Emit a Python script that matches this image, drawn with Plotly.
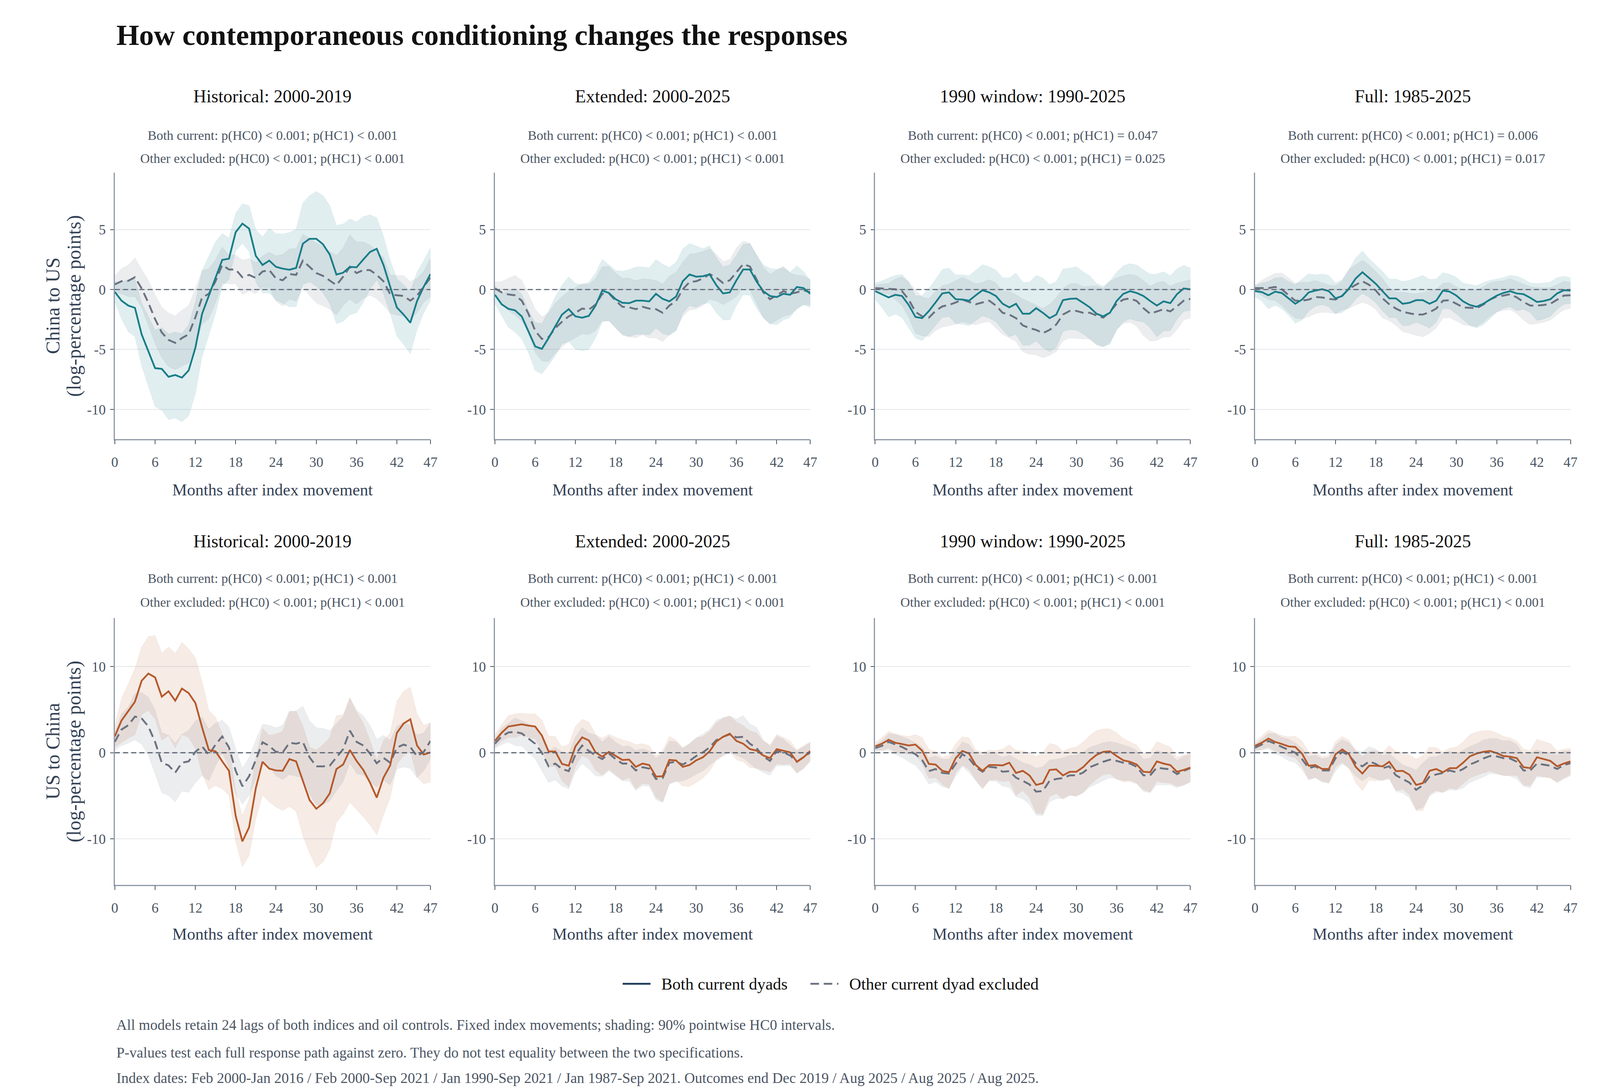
import plotly.graph_objects as go

months = list(range(48))
x_ticks = [0, 6, 12, 18, 24, 30, 36, 42, 47]

col_titles = ["Historical: 2000-2019", "Extended: 2000-2025", "1990 window: 1990-2025", "Full: 1985-2025"]
row_titles = [("China to US", "(log-percentage points)"), ("US to China", "(log-percentage points)")]
legend_names = ["Both current dyads", "Other current dyad excluded"]

pvals_cu = [
    ("p(HC0) < 0.001; p(HC1) < 0.001", "p(HC0) < 0.001; p(HC1) < 0.001"),
    ("p(HC0) < 0.001; p(HC1) < 0.001", "p(HC0) < 0.001; p(HC1) < 0.001"),
    ("p(HC0) < 0.001; p(HC1) = 0.047", "p(HC0) < 0.001; p(HC1) = 0.025"),
    ("p(HC0) < 0.001; p(HC1) = 0.006", "p(HC0) < 0.001; p(HC1) = 0.017"),
]
pvals_uc = [
    ("p(HC0) < 0.001; p(HC1) < 0.001", "p(HC0) < 0.001; p(HC1) < 0.001"),
    ("p(HC0) < 0.001; p(HC1) < 0.001", "p(HC0) < 0.001; p(HC1) < 0.001"),
    ("p(HC0) < 0.001; p(HC1) < 0.001", "p(HC0) < 0.001; p(HC1) < 0.001"),
    ("p(HC0) < 0.001; p(HC1) < 0.001", "p(HC0) < 0.001; p(HC1) < 0.001"),
]

# ---- China to US ----
cu_hist_both = [-0.2, -0.93, -1.34, -1.53, -3.74, -5.17, -6.56, -6.62, -7.28, -7.13, -7.35, -6.75, -4.87, -2.02, -0.51, 0.99, 2.47, 2.57, 4.78, 5.5, 5.08, 2.8, 2.05, 2.41, 1.89, 1.74, 1.65, 1.8, 3.82, 4.23, 4.23, 3.77, 2.92, 1.25, 1.4, 1.89, 1.85, 2.5, 3.13, 3.4, 2.05, 0.24, -1.5, -2.09, -2.77, -0.96, 0.24, 1.29]
cu_hist_both_hw = [0.83, 1.53, 2.18, 2.4, 2.63, 2.93, 3.2, 3.44, 3.58, 3.58, 3.68, 3.8, 3.83, 3.6, 3.3, 3.0, 2.2, 1.73, 1.58, 1.65, 1.9, 2.18, 2.35, 2.7, 2.77, 2.9, 3.1, 3.23, 3.4, 3.6, 3.95, 4.06, 4.09, 4.1, 4.06, 4.0, 3.8, 3.58, 3.1, 2.6, 2.4, 2.2, 2.4, 2.48, 2.59, 2.4, 2.18, 2.2]
cu_hist_excl = [0.42, 0.69, 0.72, 1.02, 0.09, -1.11, -2.47, -3.59, -4.2, -4.45, -4.05, -3.74, -2.32, -0.66, -0.36, 0.69, 2.05, 1.67, 1.67, 1.02, 1.22, 0.96, 1.5, 1.62, 0.92, 0.77, 1.29, 1.22, 2.41, 1.89, 1.37, 1.14, 0.77, 0.36, 1.07, 1.89, 1.37, 1.62, 1.62, 1.22, 0.69, -0.39, -0.48, -0.54, -0.93, -0.51, 0.24, 0.99]
cu_hist_excl_hw = [0.72, 1.05, 1.32, 1.62, 1.58, 1.88, 2.03, 2.1, 2.25, 2.24, 2.33, 2.4, 2.4, 2.25, 2.1, 1.8, 1.5, 1.2, 1.2, 1.43, 1.37, 1.3, 1.3, 1.5, 1.9, 2.15, 2.1, 2.2, 2.2, 2.4, 2.5, 2.5, 2.4, 2.5, 2.4, 2.7, 2.6, 2.35, 2.1, 2.0, 2.0, 1.6, 1.65, 1.7, 1.6, 1.45, 1.3, 1.6]

cu_ext_both = [-0.44, -1.23, -1.61, -1.74, -2.24, -3.52, -4.75, -4.95, -4.05, -3.07, -2.09, -1.64, -2.24, -2.35, -2.2, -1.34, -0.09, -0.29, -0.81, -1.11, -1.14, -0.93, -0.93, -0.99, -0.36, -0.78, -0.99, -0.59, 0.69, 1.25, 1.07, 1.11, 1.26, 0.36, -0.33, -0.24, 0.77, 1.67, 1.67, 0.66, -0.14, -0.54, -0.63, -0.36, -0.44, 0.21, 0.12, -0.36]
cu_ext_both_hw = [0.75, 0.93, 1.53, 1.82, 1.88, 1.73, 2.0, 2.1, 2.26, 2.48, 2.45, 2.7, 2.75, 2.75, 2.8, 2.7, 2.6, 2.33, 2.4, 2.63, 2.8, 2.81, 2.81, 2.8, 2.86, 2.89, 2.83, 2.86, 2.7, 2.59, 2.56, 2.3, 2.38, 2.3, 2.21, 2.3, 2.1, 2.1, 2.15, 2.23, 2.21, 2.3, 2.32, 2.18, 1.88, 1.77, 1.38, 1.13]
cu_ext_excl = [0.09, -0.24, -0.41, -0.48, -0.93, -2.02, -3.44, -4.12, -3.97, -3.22, -2.69, -2.24, -1.94, -1.59, -1.68, -1.26, -0.36, -0.33, -0.93, -1.44, -1.49, -1.64, -1.44, -1.59, -1.64, -1.94, -1.34, -0.96, 0.02, 0.62, 0.69, 0.92, 1.29, 0.99, 0.54, 0.77, 1.44, 2.12, 1.92, 0.84, -0.24, -0.81, -0.48, -0.14, -0.36, -0.24, -0.06, -0.24]
cu_ext_excl_hw = [0.53, 0.9, 1.35, 1.65, 1.7, 1.65, 1.8, 1.85, 2.03, 2.1, 2.1, 2.1, 2.1, 2.1, 2.1, 2.18, 2.26, 2.26, 2.29, 2.38, 2.45, 2.38, 2.33, 2.45, 2.41, 2.41, 2.45, 2.41, 2.26, 2.33, 2.33, 2.26, 2.1, 1.95, 1.8, 1.73, 2.03, 1.92, 1.95, 2.03, 2.1, 2.1, 2.1, 2.1, 1.73, 1.43, 1.2, 1.05]

cu_1990_both = [-0.14, -0.39, -0.66, -0.44, -0.54, -1.29, -2.29, -2.39, -1.8, -1.08, -0.33, -0.24, -0.81, -0.84, -0.93, -0.48, -0.06, -0.24, -0.54, -1.19, -1.49, -1.19, -2.02, -2.02, -1.56, -1.94, -2.39, -2.09, -0.89, -0.78, -0.75, -1.11, -1.49, -2.02, -2.24, -1.94, -0.96, -0.36, -0.14, -0.29, -0.54, -0.96, -1.34, -0.99, -1.14, -0.39, 0.09, 0.02]
cu_1990_both_hw = [0.68, 1.11, 1.62, 1.61, 1.8, 1.91, 1.77, 1.88, 1.88, 1.92, 2.0, 2.02, 2.03, 2.06, 2.08, 2.11, 2.14, 2.14, 2.17, 2.18, 2.45, 2.56, 2.63, 2.63, 2.74, 2.9, 2.81, 2.75, 2.6, 2.56, 2.65, 2.59, 2.63, 2.53, 2.51, 2.63, 2.41, 2.33, 2.3, 2.33, 2.17, 2.23, 2.63, 2.47, 2.29, 2.11, 1.92, 1.77]
cu_1990_excl = [0.12, 0.09, 0.06, 0.02, -0.14, -0.84, -1.86, -2.24, -2.35, -1.79, -1.41, -1.29, -1.08, -0.84, -1.04, -1.23, -1.08, -0.93, -1.34, -1.94, -2.09, -2.39, -2.99, -3.22, -3.37, -3.64, -3.37, -2.92, -2.09, -1.79, -1.79, -1.94, -1.94, -2.17, -2.35, -1.86, -1.19, -0.84, -0.74, -0.96, -1.56, -2.02, -1.83, -1.64, -1.83, -1.41, -0.93, -0.78]
cu_1990_excl_hw = [0.24, 0.38, 0.45, 0.86, 1.2, 1.5, 1.8, 1.61, 1.59, 1.65, 1.73, 1.74, 1.83, 1.85, 1.8, 1.71, 1.68, 1.76, 1.88, 1.8, 1.95, 1.95, 2.21, 2.18, 2.08, 2.06, 2.14, 2.26, 2.18, 2.26, 2.3, 2.18, 2.21, 2.48, 2.45, 2.56, 2.15, 2.0, 2.0, 2.11, 2.29, 2.29, 2.41, 2.33, 2.11, 1.95, 1.61, 1.61]

cu_full_both = [-0.14, -0.21, -0.48, -0.18, -0.29, -0.74, -1.19, -0.84, -0.24, -0.09, 0.02, -0.14, -0.74, -0.54, 0.09, 0.92, 1.44, 0.96, 0.47, -0.14, -0.74, -0.74, -1.19, -1.11, -0.89, -0.89, -1.19, -0.93, -0.09, -0.18, -0.51, -0.99, -1.29, -1.44, -1.19, -0.84, -0.51, -0.29, -0.14, -0.33, -0.39, -0.69, -1.04, -0.96, -0.81, -0.33, -0.06, -0.09]
cu_full_both_hw = [0.45, 0.75, 1.14, 1.14, 1.31, 1.4, 1.61, 1.71, 1.56, 1.31, 1.28, 1.31, 1.28, 1.38, 1.58, 1.73, 1.77, 1.61, 1.58, 1.65, 1.61, 1.61, 1.85, 1.88, 1.85, 2.06, 2.03, 1.8, 1.5, 1.44, 1.53, 1.53, 1.71, 1.76, 1.76, 1.61, 1.38, 1.28, 1.31, 1.44, 1.26, 1.23, 1.55, 1.5, 1.43, 1.32, 1.17, 1.08]
cu_full_excl = [0.12, 0.12, 0.12, 0.21, 0.02, -0.48, -0.93, -0.93, -0.84, -0.63, -0.66, -0.78, -0.84, -0.51, 0.06, 0.39, 0.69, 0.39, -0.09, -0.74, -1.23, -1.59, -1.86, -1.98, -2.09, -2.09, -1.89, -1.59, -0.93, -0.89, -1.19, -1.49, -1.53, -1.56, -1.26, -0.84, -0.59, -0.51, -0.39, -0.66, -1.04, -1.34, -1.34, -1.29, -1.19, -0.84, -0.51, -0.48]
cu_full_excl_hw = [0.26, 0.63, 0.96, 1.14, 1.35, 1.46, 1.46, 1.53, 1.44, 1.38, 1.23, 1.16, 1.17, 1.2, 1.62, 1.68, 1.77, 1.65, 1.59, 1.65, 1.38, 1.4, 1.65, 1.68, 1.73, 1.85, 1.77, 1.62, 1.46, 1.46, 1.43, 1.46, 1.5, 1.53, 1.47, 1.4, 1.28, 1.23, 1.29, 1.35, 1.5, 1.58, 1.5, 1.44, 1.35, 1.25, 1.2, 1.08]

# ---- US to China ----
uc_hist_both = [1.89, 3.74, 4.83, 5.92, 8.36, 9.2, 8.76, 6.51, 7.14, 6.05, 7.46, 6.93, 5.78, 2.94, 0.32, 0.17, -1.0, -2.1, -7.35, -10.3, -8.66, -4.1, -1.05, -1.85, -2.06, -2.1, -0.74, -1.0, -3.26, -5.5, -6.51, -5.88, -4.73, -1.89, -1.37, 0.32, -0.95, -2.0, -3.47, -5.21, -2.9, -1.47, 2.31, 3.4, 3.89, 0.84, -0.21, 0.04]
uc_hist_both_hw = [1.26, 2.56, 3.15, 3.84, 3.93, 4.29, 4.85, 5.08, 5.15, 5.5, 5.36, 5.15, 5.25, 5.36, 4.62, 3.97, 3.2, 2.84, 2.94, 2.94, 3.28, 3.57, 3.89, 3.87, 4.24, 4.62, 5.5, 5.8, 6.4, 6.16, 6.83, 6.83, 6.5, 6.2, 5.78, 6.1, 5.67, 5.46, 4.94, 4.35, 4.35, 3.78, 3.68, 3.74, 3.72, 3.68, 3.4, 3.43]
uc_hist_excl = [1.26, 2.69, 3.19, 4.2, 3.99, 3.05, 1.26, -1.16, -1.47, -2.31, -1.16, -1.0, 0.1, 0.74, -0.25, 0.95, 1.89, 0.63, -2.1, -3.89, -2.73, -0.84, 1.22, 0.8, 0.1, 0.04, 1.16, 1.05, 1.26, -0.53, -1.58, -1.58, -1.51, -0.53, 0.42, 2.56, 1.26, 0.84, -0.1, -1.22, -0.59, -1.16, 0.59, 0.95, 0.67, -0.42, 0.1, 1.37]
uc_hist_excl_hw = [1.0, 1.85, 2.1, 2.7, 3.0, 3.4, 3.7, 3.5, 3.5, 3.4, 3.3, 3.6, 3.6, 3.4, 3.0, 2.5, 1.9, 2.35, 2.6, 2.1, 2.2, 2.3, 2.1, 2.4, 2.8, 3.15, 3.7, 3.8, 4.15, 4.25, 4.5, 4.4, 4.1, 3.9, 3.8, 3.75, 3.7, 3.45, 3.3, 2.8, 2.6, 2.6, 2.5, 2.6, 2.5, 2.5, 2.2, 2.1]

uc_ext_both = [1.37, 2.31, 3.05, 3.15, 3.3, 3.15, 3.05, 2.0, 0.15, 0.15, -1.3, -1.51, 0.74, 1.79, 1.43, 0.04, -0.46, 0.1, -0.38, -0.84, -0.8, -1.64, -1.26, -1.43, -2.77, -2.73, -0.84, -0.9, -1.64, -1.43, -0.88, -0.53, 0.17, 1.3, 1.85, 2.21, 1.37, 1.05, 0.42, 0.25, -0.32, -0.63, 0.42, 0.21, 0.04, -1.05, -0.53, 0.21]
uc_ext_both_hw = [0.74, 0.95, 1.26, 1.37, 1.28, 1.37, 1.47, 1.79, 1.79, 1.74, 1.97, 2.46, 2.31, 2.1, 2.14, 2.1, 2.14, 2.04, 2.16, 2.35, 2.1, 2.58, 2.31, 2.23, 2.39, 2.98, 2.73, 2.37, 2.23, 2.48, 2.56, 2.42, 2.31, 2.16, 2.14, 2.04, 2.21, 2.1, 2.14, 2.06, 1.68, 1.58, 1.72, 1.58, 1.32, 1.37, 1.32, 1.09]
uc_ext_excl = [1.05, 1.89, 2.35, 2.42, 2.25, 1.68, 1.05, 0.0, -1.58, -1.26, -1.89, -2.14, -0.21, 0.84, 0.21, -0.32, -0.74, -0.1, -0.74, -1.26, -1.26, -2.06, -1.68, -1.85, -3.05, -2.94, -1.16, -1.05, -1.37, -0.95, -0.38, 0.04, 0.63, 1.47, 1.85, 2.14, 1.79, 1.85, 1.05, 0.53, -0.42, -0.95, 0.21, 0.04, -0.32, -1.05, -0.53, 0.04]
uc_ext_excl_hw = [0.53, 0.95, 1.09, 1.62, 1.47, 1.68, 1.79, 2.1, 1.89, 1.89, 2.0, 2.06, 2.06, 2.1, 2.1, 2.37, 2.0, 2.0, 1.95, 2.0, 2.06, 2.31, 2.14, 2.04, 2.42, 2.84, 2.52, 2.31, 1.89, 2.0, 2.14, 2.14, 2.1, 2.31, 2.23, 2.14, 2.1, 2.48, 2.31, 2.42, 1.89, 1.68, 1.72, 1.55, 1.2, 1.26, 1.26, 1.09]

uc_1990_both = [0.74, 1.05, 1.51, 1.16, 1.01, 0.84, 0.95, 0.25, -1.3, -1.37, -2.1, -2.27, -0.63, 0.21, -0.1, -1.43, -2.1, -1.43, -1.43, -1.47, -1.16, -2.35, -2.1, -2.63, -3.74, -3.53, -2.0, -1.93, -2.63, -2.21, -2.21, -1.68, -0.88, -0.25, 0.1, 0.17, -0.38, -0.88, -1.05, -1.37, -2.21, -2.27, -1.01, -1.26, -1.43, -2.21, -2.0, -1.72]
uc_1990_both_hw = [0.42, 0.74, 0.97, 1.05, 0.99, 1.05, 1.16, 1.53, 1.68, 1.53, 1.58, 1.95, 1.68, 1.64, 1.83, 1.74, 2.14, 1.74, 1.68, 1.89, 2.1, 2.61, 2.31, 2.58, 3.28, 3.57, 3.09, 2.82, 2.79, 2.73, 2.88, 2.94, 2.88, 2.82, 2.67, 2.61, 2.69, 2.52, 2.31, 2.25, 2.1, 2.31, 2.31, 2.21, 2.1, 1.68, 1.74, 1.62]
uc_1990_excl = [0.53, 0.8, 1.26, 0.95, 0.67, 0.25, -0.17, -0.84, -2.14, -1.89, -2.35, -2.42, -1.26, -0.17, -0.67, -1.68, -2.21, -1.64, -1.72, -2.21, -2.14, -2.9, -3.26, -3.68, -4.52, -4.45, -3.26, -3.05, -2.94, -2.63, -2.63, -2.31, -1.68, -1.37, -1.05, -0.8, -0.95, -1.16, -1.26, -1.64, -2.63, -2.63, -1.72, -1.85, -1.93, -2.48, -2.1, -1.79]
uc_1990_excl_hw = [0.36, 0.59, 0.95, 1.16, 1.2, 1.3, 1.3, 1.51, 1.53, 1.51, 1.6, 1.68, 1.47, 1.43, 1.64, 1.58, 1.89, 1.64, 1.58, 1.68, 1.89, 2.21, 2.1, 2.31, 2.73, 2.84, 2.42, 2.31, 2.35, 2.31, 2.37, 2.35, 2.31, 2.27, 2.21, 2.1, 2.1, 2.06, 1.93, 1.89, 1.89, 2.0, 2.0, 1.89, 1.79, 1.58, 1.68, 1.64]

uc_full_both = [0.8, 1.16, 1.64, 1.26, 1.01, 0.74, 0.67, -0.1, -1.51, -1.43, -1.89, -1.89, -0.17, 0.38, -0.17, -1.64, -2.42, -1.51, -1.51, -1.58, -1.05, -2.14, -2.1, -2.56, -3.74, -3.53, -2.1, -1.89, -2.27, -1.79, -1.79, -1.16, -0.42, -0.1, 0.1, 0.21, -0.04, -0.38, -0.46, -0.63, -1.68, -1.79, -0.53, -0.74, -0.95, -1.58, -1.26, -1.01]
uc_full_both_hw = [0.5, 0.78, 0.99, 1.05, 0.99, 1.11, 1.26, 1.47, 1.58, 1.47, 1.43, 1.58, 1.47, 1.51, 1.64, 1.85, 2.0, 1.68, 1.76, 1.58, 1.89, 2.25, 2.14, 2.31, 3.0, 3.21, 2.77, 2.48, 2.37, 2.31, 2.46, 2.42, 2.52, 2.52, 2.46, 2.35, 2.35, 2.27, 2.18, 2.0, 2.1, 2.04, 2.1, 2.04, 2.0, 1.79, 1.68, 1.53]
uc_full_excl = [0.59, 0.95, 1.37, 1.05, 0.67, 0.32, 0.0, -0.74, -1.79, -1.58, -2.06, -2.06, -0.63, 0.1, -0.32, -1.22, -1.58, -1.01, -1.3, -1.79, -1.58, -2.63, -3.05, -3.47, -4.31, -3.78, -2.77, -2.52, -2.35, -2.06, -2.27, -1.89, -1.37, -1.05, -0.67, -0.38, -0.42, -0.63, -0.67, -1.05, -2.06, -2.06, -1.26, -1.37, -1.51, -1.89, -1.43, -1.22]
uc_full_excl_hw = [0.38, 0.63, 0.9, 1.16, 1.09, 1.26, 1.16, 1.26, 1.37, 1.32, 1.34, 1.51, 1.51, 1.41, 1.47, 1.51, 1.68, 1.72, 1.74, 1.47, 1.47, 1.89, 1.62, 1.79, 2.31, 2.6, 2.27, 2.06, 2.23, 2.25, 2.1, 2.21, 2.1, 2.1, 2.16, 2.04, 2.06, 2.0, 2.06, 2.0, 1.83, 2.04, 1.58, 1.47, 1.39, 1.64, 1.62, 1.47]

notes = [
    "All models retain 24 lags of both indices and oil controls. Fixed index movements; shading: 90% pointwise HC0 intervals.",
    "P-values test each full response path against zero. They do not test equality between the two specifications.",
    "Index dates: Feb 2000-Jan 2016 / Feb 2000-Sep 2021 / Jan 1990-Sep 2021 / Jan 1987-Sep 2021. Outcomes end Dec 2019 / Aug 2025 / Aug 2025 / Aug 2025.",
]

# ---- styling ----
FONT = "Liberation Serif"
TEAL = "#177d88"
ORANGE = "#b5592b"
GREY = "#6b7280"
NAVY = "#1f3b5c"
DASH = "22px,12px"
band_fill = {TEAL: "rgba(23,125,136,0.13)", ORANGE: "rgba(181,89,43,0.12)", GREY: "rgba(107,114,128,0.13)"}
band_edge = {TEAL: "rgba(23,125,136,0.10)", ORANGE: "rgba(181,89,43,0.10)", GREY: "rgba(107,114,128,0.10)"}

x_domains = [[0.0683, 0.2677], [0.3084, 0.5076], [0.5486, 0.7477], [0.7885, 0.9878]]
y_domains = [[0.5978, 0.8435], [0.1865, 0.4326]]
y_ranges = [[-12.47, 9.74], [-15.34, 15.65]]
y_tickvals = [[-10, -5, 0, 5], [-10, 0, 10]]

panels = [
    (0, 0, cu_hist_both, cu_hist_both_hw, cu_hist_excl, cu_hist_excl_hw),
    (0, 1, cu_ext_both, cu_ext_both_hw, cu_ext_excl, cu_ext_excl_hw),
    (0, 2, cu_1990_both, cu_1990_both_hw, cu_1990_excl, cu_1990_excl_hw),
    (0, 3, cu_full_both, cu_full_both_hw, cu_full_excl, cu_full_excl_hw),
    (1, 0, uc_hist_both, uc_hist_both_hw, uc_hist_excl, uc_hist_excl_hw),
    (1, 1, uc_ext_both, uc_ext_both_hw, uc_ext_excl, uc_ext_excl_hw),
    (1, 2, uc_1990_both, uc_1990_both_hw, uc_1990_excl, uc_1990_excl_hw),
    (1, 3, uc_full_both, uc_full_both_hw, uc_full_excl, uc_full_excl_hw),
]


def band(xref, yref, mid, hw, color):
    upper = [m + h for m, h in zip(mid, hw)]
    lower = [m - h for m, h in zip(mid, hw)]
    return go.Scatter(
        x=months + months[::-1], y=upper + lower[::-1],
        xaxis=xref, yaxis=yref, fill="toself", fillcolor=band_fill[color],
        line=dict(color=band_edge[color], width=1), mode="lines",
        hoverinfo="skip", showlegend=False,
    )


def note(text, x, y, size, color, anchor="center", angle=0):
    return dict(text=text, x=x, y=y, xref="paper", yref="paper", showarrow=False,
                xanchor=anchor, yanchor="middle", textangle=angle,
                font=dict(family=FONT, size=size, color=color))


fig = go.Figure()
layout_axes = {}
annotations = []
shapes = []

for row, col, both, both_hw, excl, excl_hw in panels:
    n = row * 4 + col + 1
    suffix = "" if n == 1 else str(n)
    xr, yr = "x" + suffix, "y" + suffix
    main = TEAL if row == 0 else ORANGE
    fig.add_trace(band(xr, yr, both, both_hw, main))
    fig.add_trace(band(xr, yr, excl, excl_hw, GREY))
    fig.add_trace(go.Scatter(x=months, y=excl, xaxis=xr, yaxis=yr, mode="lines",
                             line=dict(color=GREY, width=4.8, dash=DASH), showlegend=False))
    fig.add_trace(go.Scatter(x=months, y=both, xaxis=xr, yaxis=yr, mode="lines",
                             line=dict(color=main, width=4.5), showlegend=False))

    axis_common = dict(showline=True, linecolor="#8e98a6", linewidth=2.5, ticks="outside",
                       tickwidth=2.2, tickcolor="#4b5563", zeroline=False,
                       tickfont=dict(family=FONT, size=36, color="#4b5563"))
    layout_axes["xaxis" + suffix] = dict(domain=x_domains[col], anchor=yr, range=[0, 47],
                                         tickvals=x_ticks, showgrid=False, ticklen=11,
                                         ticklabelstandoff=14, **axis_common)
    layout_axes["yaxis" + suffix] = dict(domain=y_domains[row], anchor=xr, range=y_ranges[row],
                                         tickvals=y_tickvals[row], ticktext=[str(v) for v in y_tickvals[row]],
                                         showgrid=True, gridcolor="#e4e7eb", gridwidth=2.2, ticklen=9,
                                         ticklabelstandoff=4, **axis_common)

    shapes.append(dict(type="line", xref=xr + " domain", yref=yr, x0=0, x1=1, y0=0, y1=0,
                       line=dict(color="#5b6472", width=2.8, dash="13px,8px"), layer="above"))

    xc = (x_domains[col][0] + x_domains[col][1]) / 2
    title_y = [0.9140, 0.5034][row]
    sub_y = [(0.8778, 0.8565), (0.4689, 0.4470)][row]
    xlab_y = [0.5511, 0.1410][row]
    pv = (pvals_cu if row == 0 else pvals_uc)[col]
    annotations.append(note(col_titles[col], xc, title_y, 46, "#111111"))
    annotations.append(note(f"Both current: {pv[0]}", xc, sub_y[0], 34, "#4b5563"))
    annotations.append(note(f"Other excluded: {pv[1]}", xc, sub_y[1], 34, "#4b5563"))
    annotations.append(note("Months after index movement", xc, xlab_y, 42.5, "#334155"))

for row in range(2):
    yc = (y_domains[row][0] + y_domains[row][1]) / 2
    annotations.append(note(row_titles[row][0], 0.0292, yc, 50, "#334155", angle=-90))
    annotations.append(note(row_titles[row][1], 0.0424, yc, 50, "#334155", angle=-90))

annotations.append(note("<b>How contemporaneous conditioning changes the responses</b>",
                        0.0688, 0.9707, 75, "#111111", anchor="left"))

for line, y in zip(notes, [0.0571, 0.0314, 0.0080]):
    annotations.append(note(line, 0.0688, y, 37.5, "#4b5563", anchor="left"))

# legend drawn as key lines and labels below the panels
legend_y = 0.0951
legend_keys = [(0.3891, 0.4067, 0.4131, NAVY, "solid"), (0.5077, 0.5254, 0.5317, GREY, DASH)]
for name, (x0, x1, xt, color, dash) in zip(legend_names, legend_keys):
    shapes.append(dict(type="line", xref="paper", yref="paper", x0=x0, x1=x1, y0=legend_y, y1=legend_y,
                       line=dict(color=color, width=4.8, dash=dash)))
    annotations.append(note(name, xt, legend_y, 42.5, "#111111", anchor="left"))

fig.update_layout(
    autosize=True,
    margin=dict(l=0, r=0, t=0, b=0),
    paper_bgcolor="white", plot_bgcolor="white",
    font=dict(family=FONT, color="#334155"),
    showlegend=False,
    annotations=annotations,
    shapes=shapes,
    **layout_axes,
)

fig.write_html("out.html")
